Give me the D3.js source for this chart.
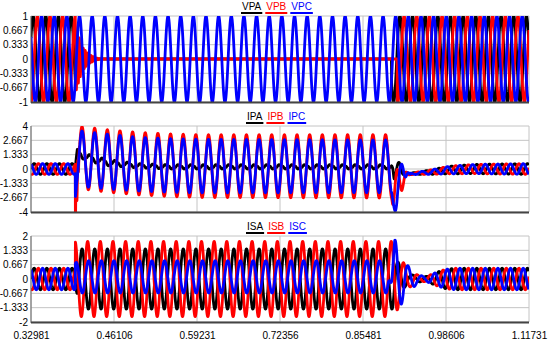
<!DOCTYPE html>
<html>
<head>
<meta charset="utf-8">
<script src="https://cdn.jsdelivr.net/npm/d3@7"></script>
<style>
body { margin: 0; background: #fff; }
svg { display: block; }
text { font-family: "Liberation Sans", Arial, sans-serif; }
</style>
</head>
<body>
<svg id="chart"></svg>
<script>
const width = 550, height = 346;

// time axis
const T0 = 0.32981, T1 = 1.11731;
const xTicks = [0.32981, 0.46106, 0.59231, 0.72356, 0.85481, 0.98606, 1.11731];

// y ticks per panel
const vTicks = [-1, -0.667, -0.333, 0, 0.333, 0.667, 1];
const ipTicks = [-4, -2.667, -1.333, 0, 1.333, 2.667, 4];
const isTicks = [-2, -1.333, -0.667, 0, 0.667, 1.333, 2];

const vNames = ['VPA', 'VPB', 'VPC'];
const ipNames = ['IPA', 'IPB', 'IPC'];
const isNames = ['ISA', 'ISB', 'ISC'];
const colors = ['#000000', '#ff0000', '#0000ff'];

// waves: [freq Hz, phase (cycles), amplitude envelope [[t, amp], ...]]
// offsets: [[t, dc], ...]
const vpaWaves = [[50, 0.59, [[T0, 1], [0.4, 1]]], [50, 0.59, [[0.9, 1], [T1, 1]]]];
const vpbWaves = [[50, 0.257, [[T0, 1], [0.4, 1]]],
	[320, 0.25, [[0.4, 0.8], [0.41, 0.3], [0.42, 0.12], [0.43, 0.04], [0.44, 0]]],
	[50, 0.257, [[0.909, 1], [T1, 1]]]];
const vpcWaves = [[50, 0.923, [[T0, 1], [T1, 1]]]];

const postIp = [[0.925, 0.05], [0.95, 0.15], [0.98, 0.3], [1.0, 0.38], [1.05, 0.45], [T1, 0.5]];
const ipaWaves = [[50, 0.51, [[T0, 0.5], [0.4, 0.5]]],
	[50, 0.1, [[0.4, 0.3], [0.45, 0.25], [0.5, 0.15], [0.9, 0.15]]],
	[150, 0, [[0.4, 0.06], [0.9, 0.06]]],
	[50, 0.51, postIp]];
const ipbWaves = [[50, 0.177, [[T0, 0.5], [0.4, 0.5]]],
	[400, 0.75, [[0.4, 2.5], [0.403, 1.5], [0.407, 0]]],
	[50, 0.725, [[0.4, 2.9], [0.9, 2.95]]],
	[50, 0.177, postIp]];
const ipcWaves = [[50, 0.843, [[T0, 0.5], [0.4, 0.5]]],
	[50, 0.725, [[0.4, 2.6], [0.5, 2.5], [0.9, 2.45]]],
	[50, 0.843, postIp]];
const postOff = [[0.93, -0.45], [0.96, -0.3], [0.99, -0.1], [1.03, 0], [T1, 0]];
const ipaOff = [[0.4, 0], [0.403, 1.5], [0.42, 1.05], [0.45, 0.6], [0.5, 0.3], [0.55, 0.2], [0.9, 0.2], ...postOff];
const ipbOff = [[0.4, 0], [0.402, 1.1], [0.45, 0.75], [0.5, 0.5], [0.55, 0.35], [0.6, 0.27], [0.9, 0.25], ...postOff];
const ipcOff = [[0.4, 0], [0.402, 1.0], [0.45, 0.7], [0.5, 0.45], [0.55, 0.33], [0.6, 0.27], [0.9, 0.25], ...postOff];

// recovery transient read point by point, every 2 ms from 0.900
const recT0 = 0.9, recDt = 0.002;
const ipaRec = [0.3, 0.0, -0.9, -0.7, 0.0, 0.5, 0.6, 0.3, -0.2, -0.5, -0.45, -0.3, -0.35, -0.5, -0.5, -0.45];
const ipbRec = [-2.7, -3.3, -2.6, -1.2, -0.2, -0.1, -0.8, -1.6, -2.0, -1.6, -0.9, -0.4, -0.3, -0.45, -0.55, -0.45];
const ipcRec = [-2.2, -2.9, -3.6, -3.9, -3.3, -1.9, -0.6, 0.2, 0.45, 0.1, -0.5, -0.75, -0.55, -0.35, -0.4, -0.5];

const postIs = [[0.92, 0], [0.935, 0.15], [0.955, 0.12], [0.97, 0.3], [0.985, 0.45], [1.0, 0.5], [T1, 0.5]];
const isaWaves = [[50, 0.51, [[T0, 0.5], [0.4, 0.5]]],
	[50, 0.72, [[0.4, 0.2], [0.405, 1.4], [0.902, 1.4], [0.91, 0.8], [0.92, 0.4], [0.93, 0.15], [0.94, 0]]],
	[50, 0.51, postIs]];
const isbWaves = [[50, 0.177, [[T0, 0.5], [0.4, 0.5]]],
	[50, 0.28, [[0.4, 1.75], [0.905, 1.75], [0.915, 1.0], [0.925, 0.4], [0.935, 0.15], [0.945, 0]]],
	[50, 0.177, postIs]];
const iscWaves = [[50, 0.843, [[T0, 0.5], [0.4, 0.5]]],
	[50, 0.2, [[0.4, 0.75], [0.895, 0.75], [0.9, 0]]],
	[50, 0.96, [[0.895, 0], [0.905, 1.8], [0.915, 1.2], [0.925, 0.6], [0.94, 0.1], [0.95, 0]]],
	[50, 0.843, postIs]];
const iscOff = [[0.4, 0], [0.405, 0.1], [0.9, 0.1], [0.91, 0]];

function envAt(keys, t) {
	if (!keys || !keys.length || t < keys[0][0] || t > keys[keys.length - 1][0]) return 0;
	for (let i = keys.length - 2; i >= 0; i--) {
		let [ta, a] = keys[i], [tb, b] = keys[i + 1];
		if (t >= ta && t <= tb) return tb === ta ? b : a + (b - a) * (t - ta) / (tb - ta);
	}
	return 0;
}

// catmull-rom through evenly spaced readings
function recAt(v, t) {
	let u = (t - recT0) / recDt, i = Math.min(Math.floor(u), v.length - 2), f = u - i;
	let p0 = v[Math.max(i - 1, 0)], p1 = v[i], p2 = v[i + 1], p3 = v[Math.min(i + 2, v.length - 1)];
	return 0.5 * (2 * p1 + (-p0 + p2) * f + (2 * p0 - 5 * p1 + 4 * p2 - p3) * f * f + (-p0 + 3 * p1 - 3 * p2 + p3) * f * f * f);
}

function signal(tr, t) {
	if (tr.rec && t >= recT0 && t <= recT0 + recDt * (tr.rec.length - 1)) return recAt(tr.rec, t);
	let s = envAt(tr.off, t);
	for (let [f, ph, env] of tr.waves) {
		let a = envAt(env, t);
		if (a) s += a * Math.sin(2 * Math.PI * (f * t + ph));
	}
	return s;
}

const times = d3.range(T0, T1 + 1e-9, 0.0002);

const panels = [
	{ top: 16, ticks: vTicks, names: vNames, legendX: 242, traces: [{ waves: vpaWaves }, { waves: vpbWaves }, { waves: vpcWaves }] },
	{ top: 126, ticks: ipTicks, names: ipNames, legendX: 247, traces: [{ waves: ipaWaves, off: ipaOff, rec: ipaRec }, { waves: ipbWaves, off: ipbOff, rec: ipbRec }, { waves: ipcWaves, off: ipcOff, rec: ipcRec }] },
	{ top: 236, ticks: isTicks, names: isNames, legendX: 247, traces: [{ waves: isaWaves }, { waves: isbWaves }, { waves: iscWaves, off: iscOff }] }
];
const panelH = 86, left = 31, right = 529;

const svg = d3.select('#chart').attr('width', width).attr('height', height);
svg.append('rect').attr('width', width).attr('height', height).attr('fill', '#fff');

const x = d3.scaleLinear().domain([T0, T1]).range([left, right]);

panels.forEach((p, pi) => {
	const y = d3.scaleLinear().domain([p.ticks[0], p.ticks[p.ticks.length - 1]]).range([p.top + panelH, p.top]);
	const g = svg.append('g');

	// grid
	g.append('g').selectAll('line').data(p.ticks).join('line')
		.attr('x1', left).attr('x2', right)
		.attr('y1', d => y(d)).attr('y2', d => y(d))
		.attr('stroke', '#c4c4c4').attr('stroke-width', 1);
	g.append('g').selectAll('line').data(xTicks).join('line')
		.attr('x1', d => x(d)).attr('x2', d => x(d))
		.attr('y1', p.top).attr('y2', p.top + panelH)
		.attr('stroke', '#c4c4c4').attr('stroke-width', 1);

	// clipped traces
	g.append('clipPath').attr('id', 'clip' + pi).append('rect')
		.attr('x', left).attr('y', p.top).attr('width', right - left).attr('height', panelH);
	const line = d3.line().x(d => x(d[0])).y(d => y(d[1]));
	g.append('g').attr('clip-path', `url(#clip${pi})`)
		.selectAll('path').data(p.traces).join('path')
		.attr('d', tr => line(times.map(t => [t, signal(tr, t)])))
		.attr('fill', 'none')
		.attr('stroke', (d, i) => colors[i])
		.attr('stroke-width', 2.8)
		.attr('stroke-linejoin', 'round');

	// frame: dark left + bottom
	g.append('line').attr('x1', left).attr('x2', left).attr('y1', p.top).attr('y2', p.top + panelH + 1)
		.attr('stroke', '#666').attr('stroke-width', 1);
	g.append('line').attr('x1', left).attr('x2', right).attr('y1', p.top + panelH + 0.5).attr('y2', p.top + panelH + 0.5)
		.attr('stroke', '#444').attr('stroke-width', 2);

	// y axis labels
	const yAxis = g.append('g').attr('transform', `translate(${left},0)`)
		.call(d3.axisLeft(y).tickValues(p.ticks).tickSize(0).tickPadding(3).tickFormat(d => String(d)));
	yAxis.select('.domain').remove();
	yAxis.selectAll('text').attr('font-size', 10).attr('fill', '#000').style('font-family', '"Liberation Sans", Arial, sans-serif');

	// legend
	let lx = p.legendX;
	p.names.forEach((n, i) => {
		const t = g.append('text').attr('x', lx).attr('y', p.top - 6.5)
			.attr('font-size', 10).attr('fill', colors[i]).text(n);
		const w = t.node().getComputedTextLength();
		g.append('line').attr('x1', lx - 1).attr('x2', lx + w + 1)
			.attr('y1', p.top - 3).attr('y2', p.top - 3)
			.attr('stroke', colors[i]).attr('stroke-width', 2);
		lx += w + 5;
	});
});

// x axis labels
const xAxis = svg.append('g').attr('transform', `translate(0,${236 + panelH})`)
	.call(d3.axisBottom(x).tickValues(xTicks).tickSize(0).tickPadding(10).tickFormat(d3.format('.5f')));
xAxis.select('.domain').remove();
xAxis.selectAll('text').attr('font-size', 10).attr('fill', '#000').style('font-family', '"Liberation Sans", Arial, sans-serif');
</script>
</body>
</html>
